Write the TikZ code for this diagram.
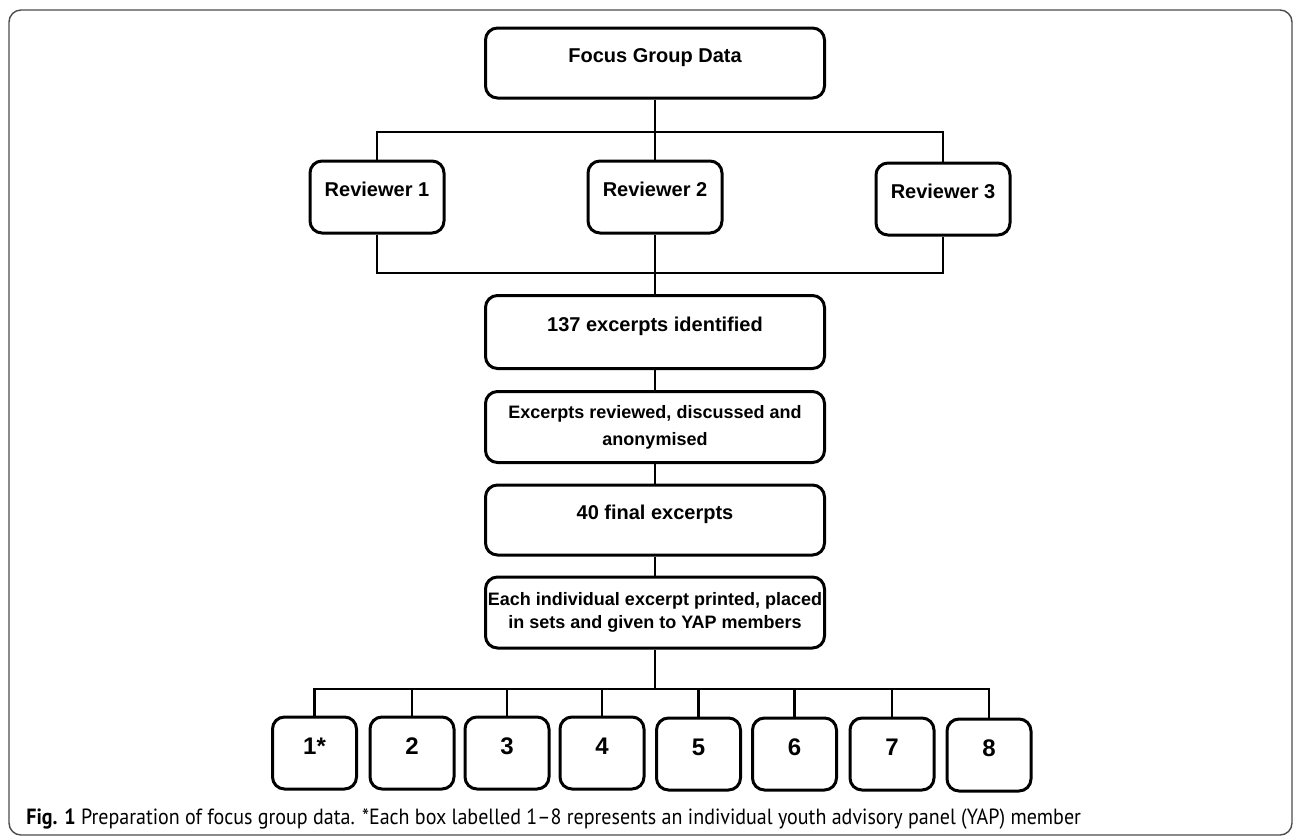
\documentclass[tikz,border=0pt]{standalone}
\usepackage{fontspec}
\setmainfont{Liberation Sans}
\newfontfamily\capfont[FakeStretch=0.91]{PT Sans}
\usetikzlibrary{positioning}

\tikzset{
  box/.style={draw, line width=1.5pt, rounded corners=6pt, inner sep=0pt, align=center,
    font=\bfseries\fontsize{10}{12}\selectfont},
  uptext/.style={text height=7.5pt, text depth=8.3pt},
  smallbox/.style={box, minimum width=42pt, minimum height=36pt, text height=8.6pt, text depth=7pt,
    font=\bfseries\fontsize{12}{14}\selectfont},
  link/.style={line width=1.1pt},
}

\begin{document}
\begin{tikzpicture}[x=0.5pt, y=-0.5pt]
\useasboundingbox (0,0) rectangle (1296,837);
% frame
\draw[gray!60!black, line width=0.7pt, rounded corners=6pt] (9,10) rectangle (1292,835);

% main column
\node[box, uptext, minimum width=169.5pt, minimum height=35pt] (fgd) at (655,63) {Focus Group Data};
\node[box, uptext, minimum width=67pt, minimum height=36pt] (rev1) at (377,197) {Reviewer 1};
\node[box, uptext, minimum width=67pt, minimum height=36pt] (rev2) at (655,197) {Reviewer 2};
\node[box, uptext, minimum width=67pt, minimum height=36pt] (rev3) at (943,199) {Reviewer 3};
\node[box, uptext, minimum width=169.5pt, minimum height=36.5pt] (found) at (655,332) {137 excerpts identified};
\node[box, minimum width=169.5pt, minimum height=35.5pt, font=\bfseries\fontsize{9}{13.5}\selectfont] (review) at (655,427)
  {Excerpts reviewed, discussed and\\anonymised};
\node[box, uptext, minimum width=169.5pt, minimum height=35pt] (final) at (655,520) {40 final excerpts};
\node[box, minimum width=169.5pt, minimum height=35.5pt, font=\bfseries\fontsize{9}{11.5}\selectfont] (print) at (655,612.5)
  {Each individual excerpt printed, placed\\in sets and given to YAP members};

% YAP members
\node[smallbox] (m1) at (314.5,753) {1*};
\node[smallbox] (m2) at (412,753) {2};
\node[smallbox] (m3) at (507,753) {3};
\node[smallbox] (m4) at (602,753) {4};
\node[smallbox] (m5) at (698.5,754) {5};
\node[smallbox] (m6) at (794.5,754) {6};
\node[smallbox] (m7) at (892,754) {7};
\node[smallbox] (m8) at (989,755) {8};

% connectors
\coordinate (splitA) at (655,132);
\coordinate (joinA) at (655,273);
\coordinate (splitB) at (655,689);
\draw[link] (fgd.south) -- (splitA);
\draw[link] (rev1.north) |- (splitA) -| (rev3.north);
\draw[link] (splitA) -- (rev2.north);
\draw[link] (rev1.south) |- (joinA) -| (rev3.south);
\draw[link] (rev2.south) -- (found.north);
\draw[link] (found.south) -- (review.north);
\draw[link] (review.south) -- (final.north);
\draw[link] (final.south) -- (print.north);
\draw[link] (print.south) -- (splitB);
\draw[link] (m1.north) |- (splitB) -| (m8.north);
\foreach \i in {2,...,7}
  \draw[link] (m\i.north) -- (m\i.north |- splitB);

% caption
\node[anchor=base west, inner sep=0pt, font=\capfont\fontsize{11}{13}\selectfont] (caption) at (26,824)
  {\textbf{Fig. 1} Preparation of focus group data. *Each box labelled 1–8 represents an individual youth advisory panel (YAP) member};
\end{tikzpicture}
\end{document}
